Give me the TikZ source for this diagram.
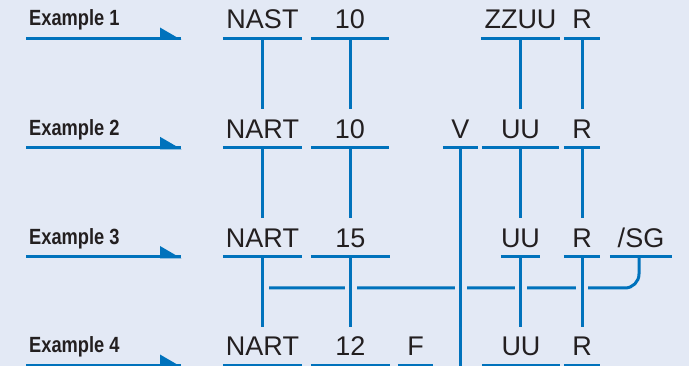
\documentclass[tikz,border=0pt]{standalone}
\usepackage{fontspec}
\setmainfont{Liberation Sans}
\newfontfamily\exfont[FakeStretch=0.83]{Liberation Sans}
\usetikzlibrary{calc}
\definecolor{bgc}{RGB}{227,233,245}
\definecolor{lblue}{RGB}{0,114,188}
\definecolor{ink}{RGB}{35,31,32}
\begin{document}
\begin{tikzpicture}[x=1pt,y=-1pt,
  tok/.style={anchor=south, inner xsep=0pt, inner ysep=9.5pt, text height=19.5pt,
    text depth=0pt, font=\fontsize{27}{27}\selectfont, text=ink},
  exlabel/.style={anchor=base west, inner sep=0pt, font=\exfont\bfseries\fontsize{22}{22}\selectfont, text=ink},
  ln/.style={draw=lblue, line width=3pt},
  halo/.style={ln, preaction={draw=bgc, line width=12pt}},
  headtri/.style={fill=lblue}
]
\fill[bgc] (0,0) rectangle (689,366);
\useasboundingbox (0,0) rectangle (689,366);

% example labels and arrows
\foreach \i/\y in {1/38.5, 2/147.8, 3/257, 4/365.5}{
  \node[exlabel] (ex\i) at (29,\y-12.5) {Example \i};
  \coordinate (as\i) at (26,\y);
  \coordinate (ae\i) at (181,\y);
  \draw[ln] (as\i) -- (ae\i);
  \fill[headtri] ($(ae\i)+(-21,-11)$) -- ($(ae\i)+(-21,1.5)$) -- ($(ae\i)+(0.5,1.5)$) -- cycle;
}

% row 1
\node[tok, minimum width=79pt] (n1) at (262.5,38.5) {NAST};
\node[tok, minimum width=78pt] (t1) at (350,38.5) {10};
\node[tok, minimum width=79pt] (z1) at (520.5,38.5) {ZZUU};
\node[tok, minimum width=36pt] (r1) at (582,38.5) {R};
% row 2
\node[tok, minimum width=79pt] (n2) at (262.5,147.8) {NART};
\node[tok, minimum width=78pt] (t2) at (350,147.8) {10};
\node[tok, minimum width=35pt] (v2) at (460.5,147.8) {V};
\node[tok, minimum width=77pt] (u2) at (520.5,147.8) {UU};
\node[tok, minimum width=36pt] (r2) at (582,147.8) {R};
% row 3
\node[tok, minimum width=79pt] (n3) at (262.5,257) {NART};
\node[tok, minimum width=79pt] (t3) at (350.5,257) {15};
\node[tok, minimum width=35pt] (u3) at (520.5,257) {UU};
\node[tok, minimum width=36pt] (r3) at (582,257) {R};
\node[tok, minimum width=62pt] (s3) at (641,257) {/SG};
% row 4
\node[tok, minimum width=79pt] (n4) at (262.5,365.5) {NART};
\node[tok, minimum width=79pt] (t4) at (350.5,365.5) {12};
\node[tok, minimum width=35pt] (f4) at (415.5,365.5) {F};
\node[tok, minimum width=78pt] (u4) at (521,365.5) {UU};
\node[tok, minimum width=36pt] (r4) at (582,365.5) {R};

% horizontal connector of example 3
\coordinate (sg) at ($(s3.south)+(-2,0)$);
\coordinate (h0) at ($(n3.south)+(0,31)$);
\draw[ln, rounded corners=14pt] (h0) -- (h0 -| sg) -- (sg);

% verticals crossing the horizontal (with gaps)
\coordinate (vb) at ($(v2.south)+(0,225)$);
\draw[halo] (v2.south) -- (vb);
\draw[halo] (n3.south) -- (n4.north);
\draw[halo] (t3.south) -- (t3.south |- t4.north);
\draw[halo] (u3.south) -- (u3.south |- u4.north);
\draw[halo] (r3.south) -- (r4.north);

% other verticals
\draw[ln] (n1.south) -- (n2.north);
\draw[ln] (t1.south) -- (t2.north);
\draw[ln] (z1.south) -- (z1.south |- u2.north);
\draw[ln] (r1.south) -- (r2.north);
\draw[ln] (n2.south) -- (n3.north);
\draw[ln] (t2.south) -- (t2.south |- t3.north);
\draw[ln] (u2.south) -- (u3.north);
\draw[ln] (r2.south) -- (r3.north);

% underlines
\foreach \n in {n1,t1,z1,r1,n2,t2,v2,u2,r2,n3,t3,u3,r3,s3,n4,t4,f4,u4,r4}{
  \draw[ln] (\n.south west) -- (\n.south east);
}
\end{tikzpicture}
\end{document}
